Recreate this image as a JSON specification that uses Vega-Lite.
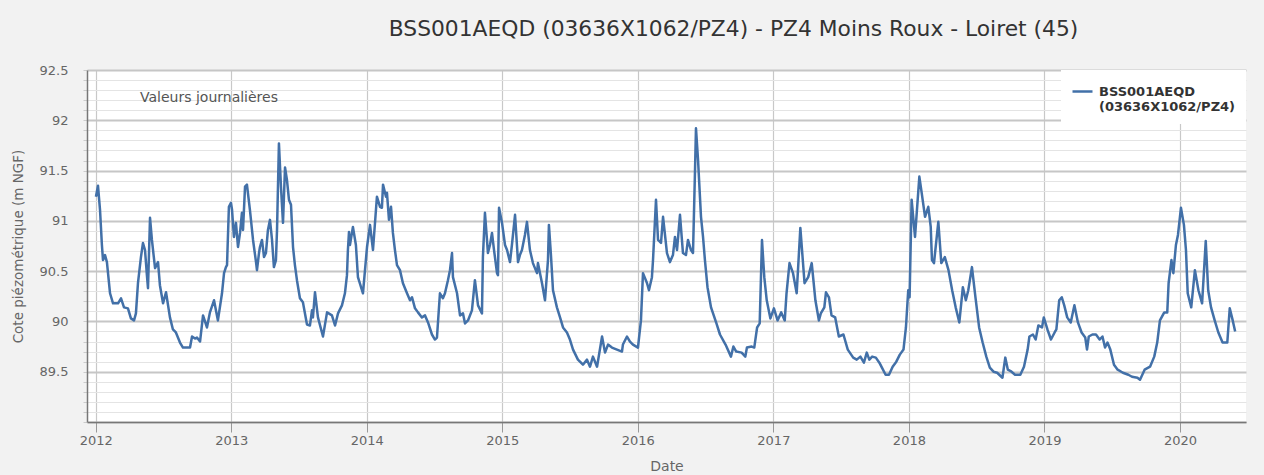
{
  "$schema": "https://vega.github.io/schema/vega-lite/v6.json",
  "width": 1159,
  "height": 352,
  "autosize": {"type": "none"},
  "padding": {"left": 87, "top": 70, "right": 18, "bottom": 53},
  "background": "#f2f2f2",
  "config": {
    "view": {"fill": "#ffffff", "stroke": null},
    "font": "DejaVu Sans"
  },
  "title": {
    "text": "BSS001AEQD (03636X1062/PZ4) - PZ4 Moins Roux - Loiret (45)",
    "font": "DejaVu Sans",
    "fontSize": 21.8,
    "fontWeight": "normal",
    "color": "#333333",
    "anchor": "middle",
    "frame": "group",
    "dx": 67,
    "offset": 23
  },
  "data": {
    "values": [
      {"date": 2012.002, "cote": 91.24}, {"date": 2012.017, "cote": 91.35}, {"date": 2012.032, "cote": 91.11}, {"date": 2012.046, "cote": 90.76},
      {"date": 2012.054, "cote": 90.61}, {"date": 2012.069, "cote": 90.66}, {"date": 2012.083, "cote": 90.59}, {"date": 2012.106, "cote": 90.28},
      {"date": 2012.128, "cote": 90.18}, {"date": 2012.165, "cote": 90.18}, {"date": 2012.187, "cote": 90.23}, {"date": 2012.209, "cote": 90.14},
      {"date": 2012.238, "cote": 90.13}, {"date": 2012.260, "cote": 90.03}, {"date": 2012.283, "cote": 90.01}, {"date": 2012.297, "cote": 90.08},
      {"date": 2012.312, "cote": 90.38}, {"date": 2012.334, "cote": 90.64}, {"date": 2012.349, "cote": 90.78}, {"date": 2012.364, "cote": 90.71},
      {"date": 2012.378, "cote": 90.46}, {"date": 2012.386, "cote": 90.33}, {"date": 2012.401, "cote": 91.03}, {"date": 2012.415, "cote": 90.81},
      {"date": 2012.438, "cote": 90.53}, {"date": 2012.460, "cote": 90.59}, {"date": 2012.474, "cote": 90.36}, {"date": 2012.497, "cote": 90.18},
      {"date": 2012.519, "cote": 90.29}, {"date": 2012.548, "cote": 90.04}, {"date": 2012.570, "cote": 89.92}, {"date": 2012.592, "cote": 89.89},
      {"date": 2012.622, "cote": 89.79}, {"date": 2012.644, "cote": 89.74}, {"date": 2012.666, "cote": 89.74}, {"date": 2012.696, "cote": 89.74},
      {"date": 2012.711, "cote": 89.85}, {"date": 2012.733, "cote": 89.83}, {"date": 2012.747, "cote": 89.84}, {"date": 2012.770, "cote": 89.80},
      {"date": 2012.792, "cote": 90.06}, {"date": 2012.821, "cote": 89.94}, {"date": 2012.843, "cote": 90.09}, {"date": 2012.873, "cote": 90.21},
      {"date": 2012.902, "cote": 90.01}, {"date": 2012.932, "cote": 90.28}, {"date": 2012.947, "cote": 90.48}, {"date": 2012.961, "cote": 90.54},
      {"date": 2012.969, "cote": 90.56}, {"date": 2012.983, "cote": 91.14}, {"date": 2012.998, "cote": 91.18},
      {"date": 2013.006, "cote": 91.11}, {"date": 2013.020, "cote": 90.84}, {"date": 2013.035, "cote": 90.98}, {"date": 2013.050, "cote": 90.74},
      {"date": 2013.065, "cote": 90.88}, {"date": 2013.079, "cote": 91.08}, {"date": 2013.087, "cote": 90.91}, {"date": 2013.102, "cote": 91.34},
      {"date": 2013.116, "cote": 91.36}, {"date": 2013.138, "cote": 91.11}, {"date": 2013.161, "cote": 90.81}, {"date": 2013.183, "cote": 90.59},
      {"date": 2013.190, "cote": 90.51}, {"date": 2013.205, "cote": 90.68}, {"date": 2013.212, "cote": 90.74}, {"date": 2013.227, "cote": 90.81},
      {"date": 2013.242, "cote": 90.64}, {"date": 2013.256, "cote": 90.68}, {"date": 2013.271, "cote": 90.91}, {"date": 2013.286, "cote": 91.01},
      {"date": 2013.301, "cote": 90.81}, {"date": 2013.315, "cote": 90.54}, {"date": 2013.330, "cote": 90.61}, {"date": 2013.338, "cote": 90.91},
      {"date": 2013.352, "cote": 91.77}, {"date": 2013.367, "cote": 91.34}, {"date": 2013.382, "cote": 90.98}, {"date": 2013.397, "cote": 91.53},
      {"date": 2013.411, "cote": 91.41}, {"date": 2013.426, "cote": 91.21}, {"date": 2013.441, "cote": 91.16}, {"date": 2013.456, "cote": 90.74},
      {"date": 2013.470, "cote": 90.56}, {"date": 2013.485, "cote": 90.41}, {"date": 2013.507, "cote": 90.23}, {"date": 2013.529, "cote": 90.19},
      {"date": 2013.559, "cote": 89.97}, {"date": 2013.581, "cote": 89.96}, {"date": 2013.596, "cote": 90.11}, {"date": 2013.603, "cote": 90.04},
      {"date": 2013.618, "cote": 90.29}, {"date": 2013.640, "cote": 90.04}, {"date": 2013.677, "cote": 89.85}, {"date": 2013.707, "cote": 90.09},
      {"date": 2013.743, "cote": 90.06}, {"date": 2013.766, "cote": 89.96}, {"date": 2013.788, "cote": 90.08}, {"date": 2013.817, "cote": 90.16},
      {"date": 2013.839, "cote": 90.28}, {"date": 2013.854, "cote": 90.46}, {"date": 2013.861, "cote": 90.71}, {"date": 2013.869, "cote": 90.89},
      {"date": 2013.876, "cote": 90.76}, {"date": 2013.898, "cote": 90.94}, {"date": 2013.920, "cote": 90.76}, {"date": 2013.935, "cote": 90.44},
      {"date": 2013.972, "cote": 90.28}, {"date": 2013.987, "cote": 90.51}, {"date": 2014.002, "cote": 90.74}, {"date": 2014.024, "cote": 90.96},
      {"date": 2014.046, "cote": 90.71}, {"date": 2014.075, "cote": 91.24},
      {"date": 2014.098, "cote": 91.14}, {"date": 2014.112, "cote": 91.13}, {"date": 2014.120, "cote": 91.36}, {"date": 2014.142, "cote": 91.24},
      {"date": 2014.149, "cote": 91.28}, {"date": 2014.164, "cote": 91.01}, {"date": 2014.179, "cote": 91.14}, {"date": 2014.193, "cote": 90.88},
      {"date": 2014.208, "cote": 90.71}, {"date": 2014.223, "cote": 90.56}, {"date": 2014.245, "cote": 90.51}, {"date": 2014.267, "cote": 90.38},
      {"date": 2014.297, "cote": 90.28}, {"date": 2014.319, "cote": 90.21}, {"date": 2014.334, "cote": 90.24}, {"date": 2014.356, "cote": 90.13},
      {"date": 2014.378, "cote": 90.09}, {"date": 2014.407, "cote": 90.04}, {"date": 2014.430, "cote": 90.06}, {"date": 2014.452, "cote": 89.99},
      {"date": 2014.481, "cote": 89.87}, {"date": 2014.503, "cote": 89.82}, {"date": 2014.518, "cote": 89.84}, {"date": 2014.540, "cote": 90.28},
      {"date": 2014.562, "cote": 90.23}, {"date": 2014.577, "cote": 90.28}, {"date": 2014.599, "cote": 90.41}, {"date": 2014.614, "cote": 90.51},
      {"date": 2014.629, "cote": 90.68}, {"date": 2014.636, "cote": 90.44}, {"date": 2014.666, "cote": 90.28}, {"date": 2014.688, "cote": 90.06},
      {"date": 2014.710, "cote": 90.08}, {"date": 2014.725, "cote": 89.98}, {"date": 2014.747, "cote": 90.01}, {"date": 2014.776, "cote": 90.11},
      {"date": 2014.798, "cote": 90.41}, {"date": 2014.821, "cote": 90.16}, {"date": 2014.850, "cote": 90.08}, {"date": 2014.857, "cote": 90.64},
      {"date": 2014.872, "cote": 91.08}, {"date": 2014.887, "cote": 90.81}, {"date": 2014.894, "cote": 90.68}, {"date": 2014.909, "cote": 90.76},
      {"date": 2014.924, "cote": 90.88}, {"date": 2014.939, "cote": 90.71}, {"date": 2014.961, "cote": 90.48}, {"date": 2014.968, "cote": 90.46},
      {"date": 2014.976, "cote": 91.13}, {"date": 2014.998, "cote": 90.98},
      {"date": 2015.005, "cote": 90.91}, {"date": 2015.020, "cote": 90.76}, {"date": 2015.035, "cote": 90.71}, {"date": 2015.057, "cote": 90.59},
      {"date": 2015.071, "cote": 90.76}, {"date": 2015.094, "cote": 91.06}, {"date": 2015.116, "cote": 90.59}, {"date": 2015.130, "cote": 90.66},
      {"date": 2015.145, "cote": 90.71}, {"date": 2015.167, "cote": 90.86}, {"date": 2015.182, "cote": 90.99}, {"date": 2015.204, "cote": 90.71},
      {"date": 2015.226, "cote": 90.58}, {"date": 2015.256, "cote": 90.48}, {"date": 2015.263, "cote": 90.58}, {"date": 2015.293, "cote": 90.38},
      {"date": 2015.315, "cote": 90.21}, {"date": 2015.337, "cote": 90.61}, {"date": 2015.344, "cote": 90.96}, {"date": 2015.359, "cote": 90.66},
      {"date": 2015.374, "cote": 90.31}, {"date": 2015.403, "cote": 90.14}, {"date": 2015.426, "cote": 90.04}, {"date": 2015.448, "cote": 89.94},
      {"date": 2015.477, "cote": 89.89}, {"date": 2015.499, "cote": 89.82}, {"date": 2015.522, "cote": 89.72}, {"date": 2015.558, "cote": 89.62},
      {"date": 2015.595, "cote": 89.57}, {"date": 2015.625, "cote": 89.62}, {"date": 2015.647, "cote": 89.55}, {"date": 2015.669, "cote": 89.65},
      {"date": 2015.699, "cote": 89.55}, {"date": 2015.736, "cote": 89.85}, {"date": 2015.758, "cote": 89.69}, {"date": 2015.780, "cote": 89.77},
      {"date": 2015.809, "cote": 89.74}, {"date": 2015.846, "cote": 89.72}, {"date": 2015.883, "cote": 89.70}, {"date": 2015.890, "cote": 89.77},
      {"date": 2015.920, "cote": 89.85}, {"date": 2015.942, "cote": 89.80}, {"date": 2015.964, "cote": 89.77},
      {"date": 2016.001, "cote": 89.74}, {"date": 2016.023, "cote": 90.01}, {"date": 2016.038, "cote": 90.48}, {"date": 2016.068, "cote": 90.38},
      {"date": 2016.082, "cote": 90.31}, {"date": 2016.104, "cote": 90.44}, {"date": 2016.112, "cote": 90.61}, {"date": 2016.134, "cote": 91.21},
      {"date": 2016.149, "cote": 90.81}, {"date": 2016.171, "cote": 90.78}, {"date": 2016.186, "cote": 91.04}, {"date": 2016.215, "cote": 90.68},
      {"date": 2016.237, "cote": 90.59}, {"date": 2016.259, "cote": 90.66}, {"date": 2016.274, "cote": 90.84}, {"date": 2016.289, "cote": 90.71},
      {"date": 2016.311, "cote": 91.06}, {"date": 2016.333, "cote": 90.68}, {"date": 2016.355, "cote": 90.66}, {"date": 2016.370, "cote": 90.81},
      {"date": 2016.392, "cote": 90.71}, {"date": 2016.407, "cote": 90.68}, {"date": 2016.422, "cote": 91.51}, {"date": 2016.429, "cote": 91.92},
      {"date": 2016.444, "cote": 91.61}, {"date": 2016.466, "cote": 91.04}, {"date": 2016.481, "cote": 90.84}, {"date": 2016.495, "cote": 90.61},
      {"date": 2016.514, "cote": 90.34}, {"date": 2016.540, "cote": 90.14}, {"date": 2016.580, "cote": 89.98}, {"date": 2016.606, "cote": 89.87},
      {"date": 2016.647, "cote": 89.77}, {"date": 2016.687, "cote": 89.65}, {"date": 2016.705, "cote": 89.75}, {"date": 2016.726, "cote": 89.70},
      {"date": 2016.766, "cote": 89.69}, {"date": 2016.793, "cote": 89.65}, {"date": 2016.805, "cote": 89.74}, {"date": 2016.840, "cote": 89.75},
      {"date": 2016.859, "cote": 89.74}, {"date": 2016.880, "cote": 89.94}, {"date": 2016.899, "cote": 89.98}, {"date": 2016.916, "cote": 90.81},
      {"date": 2016.933, "cote": 90.44}, {"date": 2016.951, "cote": 90.21}, {"date": 2016.978, "cote": 90.03},
      {"date": 2017.004, "cote": 90.13}, {"date": 2017.031, "cote": 90.01}, {"date": 2017.058, "cote": 90.09}, {"date": 2017.084, "cote": 90.01},
      {"date": 2017.097, "cote": 90.28}, {"date": 2017.119, "cote": 90.58}, {"date": 2017.145, "cote": 90.48}, {"date": 2017.172, "cote": 90.28},
      {"date": 2017.199, "cote": 90.93}, {"date": 2017.230, "cote": 90.38}, {"date": 2017.257, "cote": 90.44}, {"date": 2017.283, "cote": 90.58},
      {"date": 2017.310, "cote": 90.21}, {"date": 2017.336, "cote": 90.01}, {"date": 2017.350, "cote": 90.08}, {"date": 2017.376, "cote": 90.14},
      {"date": 2017.388, "cote": 90.29}, {"date": 2017.410, "cote": 90.24}, {"date": 2017.429, "cote": 90.06}, {"date": 2017.456, "cote": 90.04},
      {"date": 2017.483, "cote": 89.85}, {"date": 2017.517, "cote": 89.87}, {"date": 2017.549, "cote": 89.72}, {"date": 2017.589, "cote": 89.64},
      {"date": 2017.615, "cote": 89.62}, {"date": 2017.642, "cote": 89.65}, {"date": 2017.668, "cote": 89.59}, {"date": 2017.689, "cote": 89.69},
      {"date": 2017.708, "cote": 89.62}, {"date": 2017.729, "cote": 89.65}, {"date": 2017.756, "cote": 89.64}, {"date": 2017.782, "cote": 89.59},
      {"date": 2017.801, "cote": 89.54}, {"date": 2017.828, "cote": 89.47}, {"date": 2017.853, "cote": 89.47}, {"date": 2017.880, "cote": 89.55},
      {"date": 2017.907, "cote": 89.60}, {"date": 2017.933, "cote": 89.67}, {"date": 2017.960, "cote": 89.72}, {"date": 2017.978, "cote": 89.94},
      {"date": 2017.995, "cote": 90.31},
      {"date": 2018.005, "cote": 90.24}, {"date": 2018.020, "cote": 91.21}, {"date": 2018.045, "cote": 90.84}, {"date": 2018.077, "cote": 91.44},
      {"date": 2018.094, "cote": 91.28}, {"date": 2018.119, "cote": 91.04}, {"date": 2018.143, "cote": 91.14}, {"date": 2018.161, "cote": 90.94},
      {"date": 2018.170, "cote": 90.61}, {"date": 2018.185, "cote": 90.58}, {"date": 2018.217, "cote": 90.99}, {"date": 2018.239, "cote": 90.58},
      {"date": 2018.265, "cote": 90.64}, {"date": 2018.292, "cote": 90.51}, {"date": 2018.319, "cote": 90.31}, {"date": 2018.345, "cote": 90.14},
      {"date": 2018.372, "cote": 89.99}, {"date": 2018.398, "cote": 90.34}, {"date": 2018.420, "cote": 90.21}, {"date": 2018.438, "cote": 90.31},
      {"date": 2018.465, "cote": 90.54}, {"date": 2018.491, "cote": 90.24}, {"date": 2018.518, "cote": 89.94}, {"date": 2018.544, "cote": 89.79},
      {"date": 2018.571, "cote": 89.65}, {"date": 2018.597, "cote": 89.54}, {"date": 2018.624, "cote": 89.50}, {"date": 2018.651, "cote": 89.49},
      {"date": 2018.690, "cote": 89.44}, {"date": 2018.711, "cote": 89.64}, {"date": 2018.730, "cote": 89.52}, {"date": 2018.757, "cote": 89.50},
      {"date": 2018.783, "cote": 89.47}, {"date": 2018.822, "cote": 89.47}, {"date": 2018.849, "cote": 89.55}, {"date": 2018.876, "cote": 89.72},
      {"date": 2018.889, "cote": 89.85}, {"date": 2018.915, "cote": 89.87}, {"date": 2018.935, "cote": 89.82}, {"date": 2018.955, "cote": 89.96},
      {"date": 2018.982, "cote": 89.94}, {"date": 2018.995, "cote": 90.04},
      {"date": 2019.022, "cote": 89.92}, {"date": 2019.048, "cote": 89.82}, {"date": 2019.075, "cote": 89.89}, {"date": 2019.088, "cote": 89.92},
      {"date": 2019.109, "cote": 90.21}, {"date": 2019.128, "cote": 90.24}, {"date": 2019.146, "cote": 90.16}, {"date": 2019.168, "cote": 90.04},
      {"date": 2019.194, "cote": 89.99}, {"date": 2019.221, "cote": 90.16}, {"date": 2019.247, "cote": 89.99}, {"date": 2019.274, "cote": 89.89},
      {"date": 2019.301, "cote": 89.84}, {"date": 2019.314, "cote": 89.72}, {"date": 2019.327, "cote": 89.85}, {"date": 2019.354, "cote": 89.87},
      {"date": 2019.380, "cote": 89.87}, {"date": 2019.407, "cote": 89.82}, {"date": 2019.428, "cote": 89.85}, {"date": 2019.447, "cote": 89.74},
      {"date": 2019.465, "cote": 89.79}, {"date": 2019.486, "cote": 89.72}, {"date": 2019.513, "cote": 89.57}, {"date": 2019.540, "cote": 89.52},
      {"date": 2019.579, "cote": 89.49}, {"date": 2019.619, "cote": 89.47}, {"date": 2019.646, "cote": 89.45}, {"date": 2019.686, "cote": 89.44},
      {"date": 2019.705, "cote": 89.42}, {"date": 2019.739, "cote": 89.52}, {"date": 2019.779, "cote": 89.55}, {"date": 2019.810, "cote": 89.65},
      {"date": 2019.832, "cote": 89.79}, {"date": 2019.852, "cote": 90.01}, {"date": 2019.884, "cote": 90.09}, {"date": 2019.906, "cote": 90.09},
      {"date": 2019.916, "cote": 90.38}, {"date": 2019.937, "cote": 90.61}, {"date": 2019.951, "cote": 90.48}, {"date": 2019.970, "cote": 90.76},
      {"date": 2019.985, "cote": 90.86},
      {"date": 2020.007, "cote": 91.13}, {"date": 2020.029, "cote": 90.96}, {"date": 2020.044, "cote": 90.71}, {"date": 2020.057, "cote": 90.28},
      {"date": 2020.083, "cote": 90.14}, {"date": 2020.110, "cote": 90.51}, {"date": 2020.136, "cote": 90.31}, {"date": 2020.163, "cote": 90.18},
      {"date": 2020.190, "cote": 90.80}, {"date": 2020.208, "cote": 90.31}, {"date": 2020.229, "cote": 90.14}, {"date": 2020.256, "cote": 90.01},
      {"date": 2020.283, "cote": 89.89}, {"date": 2020.314, "cote": 89.79}, {"date": 2020.349, "cote": 89.79}, {"date": 2020.367, "cote": 90.13},
      {"date": 2020.389, "cote": 90.01}, {"date": 2020.407, "cote": 89.90}
    ]
  },
  "layer": [
    {
      "mark": {"type": "line", "strokeWidth": 2.5, "strokeJoin": "round"},
      "encoding": {
        "x": {
          "field": "date",
          "type": "quantitative",
          "scale": {"domain": [2011.936, 2020.487], "nice": false, "zero": false},
          "axis": {
            "title": "Date",
            "titleFont": "DejaVu Sans",
            "titleFontSize": 14,
            "titleFontWeight": "normal",
            "titleColor": "#666666",
            "titlePadding": 12,
            "values": [2012, 2013, 2014, 2015, 2016, 2017, 2018, 2019, 2020],
            "tickCount": 20,
            "format": "d",
            "labelFontSize": 13,
            "labelColor": "#666666",
            "labelPadding": 2,
            "labelFlush": false,
            "tickSize": 10,
            "tickColor": "#999999",
            "domainColor": "#777777",
            "domainWidth": 1.5,
            "grid": true,
            "gridColor": "#c8c8c8",
            "gridWidth": 1.2
          }
        },
        "y": {
          "field": "cote",
          "type": "quantitative",
          "scale": {"domain": [89, 92.5], "nice": false, "zero": false},
          "axis": {
            "title": "Cote piézométrique (m NGF)",
            "titleFont": "DejaVu Sans",
            "titleFontSize": 13.5,
            "titleFontWeight": "normal",
            "titleColor": "#666666",
            "titlePadding": 14,
            "values": [89, 89.1, 89.2, 89.3, 89.4, 89.5, 89.6, 89.7, 89.8, 89.9, 90, 90.1, 90.2, 90.3, 90.4, 90.5, 90.6, 90.7, 90.8, 90.9, 91, 91.1, 91.2, 91.3, 91.4, 91.5, 91.6, 91.7, 91.8, 91.9, 92, 92.1, 92.2, 92.3, 92.4, 92.5],
            "tickCount": 100,
            "format": "~g",
            "labelExpr": "abs(datum.value * 2 - round(datum.value * 2)) < 0.01 && datum.value > 89.01 ? datum.label : ''",
            "labelOverlap": false,
            "labelFlush": false,
            "labelFontSize": 13,
            "labelColor": "#666666",
            "labelPadding": 15,
            "tickSize": 4,
            "tickColor": "#cccccc",
            "domainColor": "#777777",
            "domainWidth": 1.5,
            "grid": true,
            "gridColor": {"condition": {"test": "abs(datum.value * 2 - round(datum.value * 2)) < 0.01", "value": "#c6c6c6"}, "value": "#e4e4e4"},
            "gridWidth": {"condition": {"test": "abs(datum.value * 2 - round(datum.value * 2)) < 0.01", "value": 1.8}, "value": 1}
          }
        },
        "color": {
          "datum": "BSS001AEQD (03636X1062/PZ4)",
          "scale": {"range": ["#4270a8"]},
          "legend": {
            "title": null,
            "orient": "top-right",
            "offset": 0,
            "padding": 10,
            "fillColor": "#ffffff",
            "symbolType": "stroke",
            "symbolStrokeWidth": 2.5,
            "symbolSize": 400,
            "symbolStrokeColor": "#4270a8",
            "labelExpr": "split(datum.label, ' ')",
            "labelFont": "DejaVu Sans",
            "labelFontSize": 13,
            "labelFontWeight": "bold",
            "labelColor": "#333333",
            "labelLimit": 400,
            "labelOffset": 5
          }
        }
      }
    },
    {
      "data": {"values": [{"date": 2012.327, "cote": 92.22, "note": "Valeurs journalières"}]},
      "mark": {"type": "text", "align": "left", "baseline": "middle", "font": "DejaVu Sans", "fontSize": 14, "color": "#555555"},
      "encoding": {
        "x": {"field": "date", "type": "quantitative"},
        "y": {"field": "cote", "type": "quantitative"},
        "text": {"field": "note"}
      }
    }
  ]
}
